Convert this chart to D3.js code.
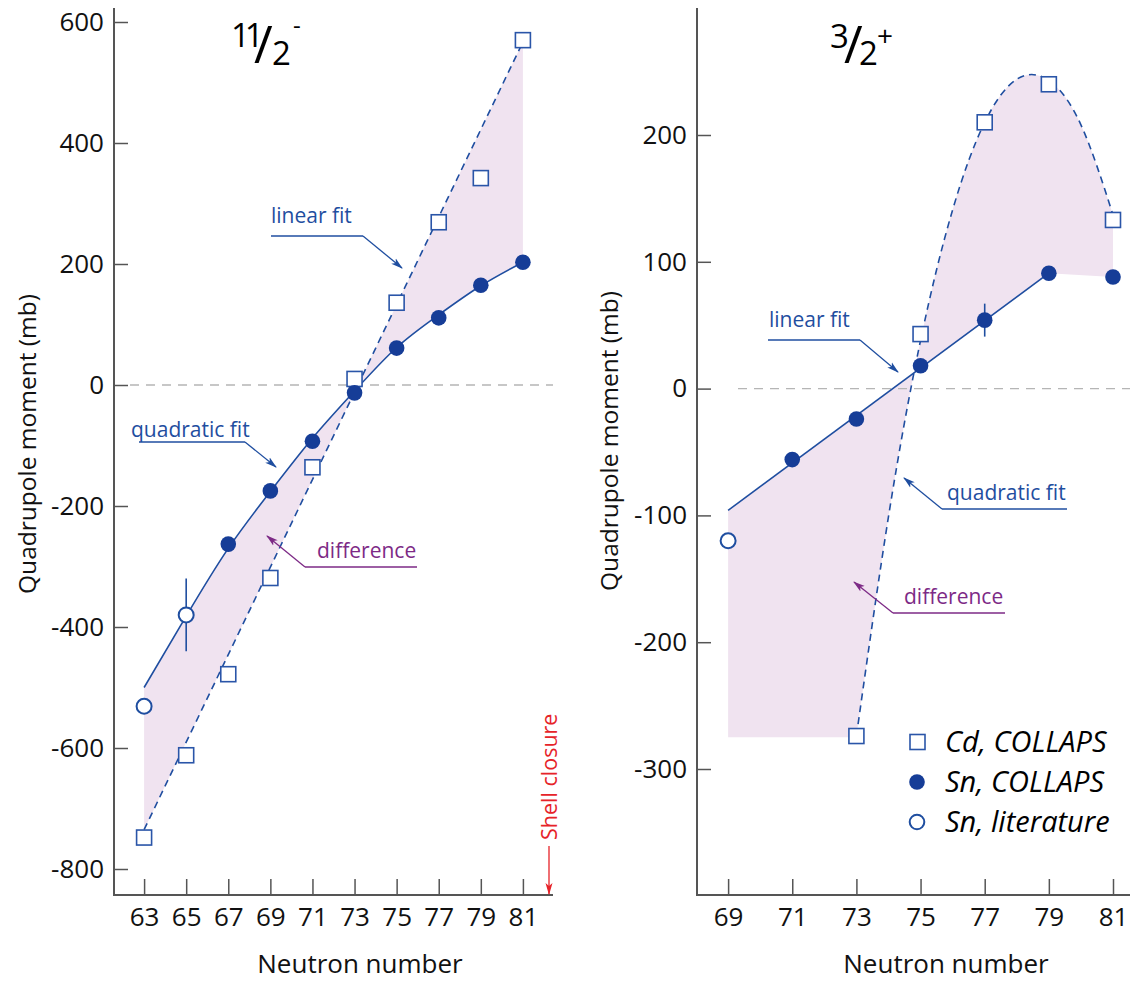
<!DOCTYPE html>
<html><head><meta charset="utf-8">
<script src="https://cdn.jsdelivr.net/npm/d3@7"></script>
<style>body{margin:0;background:#fff} svg{display:block} text{font-family:"Open Sans",sans-serif}</style>
</head><body>
<svg id="c" width="1130" height="981"></svg>
<script>
// ---------- data: left panel (11/2-) ----------
const leftN = [63,65,67,69,71,73,75,77,79,81];
const leftCd = [-748,-612,-478,-319,-136,10,136,269,342,570];
const leftSnN = [67,69,71,73,75,77,79,81];
const leftSn = [-263,-175,-93,-13,61,111,165,203];
const leftLitN = [63,65];
const leftLit = [-531,-380];
const leftLitErr = [0,60];
const leftQuadFit = [-500,-382,-270,-176,-88,-10,62,116,164,203]; // at leftN
const leftLinFitN = [63,81];
const leftLinFit = [-735,567];
const leftXTicks = [63,65,67,69,71,73,75,77,79,81];
const leftYTicks = [-800,-600,-400,-200,0,200,400,600];

// ---------- data: right panel (3/2+) ----------
const rightCdN = [73,75,77,79,81];
const rightCd = [-274,43,210,240,133];
const rightSnN = [71,73,75,77,79,81];
const rightSn = [-56,-24,18,54,91,88];
const rightSnErr = [0,0,0,13,0,0];
const rightLitN = [69];
const rightLit = [-120];
const rightLinFitN = [69,79];
const rightLinFit = [-96,91];
const rightQuadFitN = [73,74,75,76,77,78,79,80,81];
const rightQuadFit = [-274,-101,38,141,210,244,243,208,137];
const rightDiffFloor = -275;
const rightXTicks = [69,71,73,75,77,79,81];
const rightYTicks = [-300,-200,-100,0,100,200];

const legendLabels = ["Cd, COLLAPS","Sn, COLLAPS","Sn, literature"];

// ---------- styles ----------
const BLUE = "#1f4ea0", DOT = "#163d97", SQ = "#2a55a8", PURPLE = "#7d2a86", FILL = "#f0e3f0", AX = "#555";
const svg = d3.select("#c");
const defs = svg.append("defs");
function arrowMarker(id, color){
  defs.append("marker").attr("id",id).attr("markerUnits","userSpaceOnUse")
    .attr("viewBox","0 0 12 8").attr("refX",11).attr("refY",4)
    .attr("markerWidth",12).attr("markerHeight",8).attr("orient","auto")
    .append("path").attr("d","M0,0.5 L12,4 L0,7.5 L3,4 Z").attr("fill",color);
}
arrowMarker("aBlue", BLUE); arrowMarker("aPurple", PURPLE); arrowMarker("aRed", "#e62329");

function zip(xs, ys){ return xs.map((x,i)=>[x, ys[i]]); }

function panel(cfg){
  const g = svg.append("g");
  const x = cfg.x, y = cfg.y;
  const Line = c => d3.line().x(d=>x(d[0])).y(d=>y(d[1])).curve(c||d3.curveLinear);
  // difference area
  let p = "";
  cfg.areaParts.forEach((part,i)=>{
    let s = Line(part.curve)(part.pts);
    if (i>0) s = "L" + s.slice(1);
    p += s;
  });
  p += "Z";
  g.append("path").attr("d",p).attr("fill",FILL).attr("stroke","none");
  // zero line
  g.append("line").attr("x1",cfg.zeroX0).attr("x2",cfg.xEnd).attr("y1",y(0)).attr("y2",y(0))
    .attr("stroke","#b5b5b5").attr("stroke-width",1.3).attr("stroke-dasharray","9,7");
  // axes
  const ya = g.append("g").attr("transform",`translate(${cfg.x0},0)`)
    .call(d3.axisLeft(y).tickValues(cfg.yTicks).tickSizeInner(-14).tickSizeOuter(0).tickPadding(10).tickFormat(d=>String(d)));
  const xa = g.append("g").attr("transform",`translate(0,${cfg.yBase})`)
    .call(d3.axisBottom(x).tickValues(cfg.xTicks).tickSizeInner(-16).tickSizeOuter(0).tickPadding(13).tickFormat(d=>String(d)));
  [ya,xa].forEach(a=>{
    a.select(".domain").remove();
    a.selectAll(".tick line").attr("stroke",AX).attr("stroke-width",1.5);
    a.selectAll(".tick text").attr("font-size",26).attr("fill","#111").attr("font-family","Open Sans");
  });
  g.append("line").attr("x1",cfg.x0).attr("x2",cfg.x0).attr("y1",8).attr("y2",cfg.yBase+1).attr("stroke",AX).attr("stroke-width",2);
  g.append("line").attr("x1",cfg.x0).attr("x2",cfg.xEnd).attr("y1",cfg.yBase).attr("y2",cfg.yBase).attr("stroke",AX).attr("stroke-width",2);
  // axis titles
  g.append("text").attr("x",cfg.xTitleX).attr("y",973).attr("text-anchor","middle").attr("font-size",26).attr("fill","#111").text("Neutron number");
  g.append("text").attr("transform",`translate(${cfg.yTitleX},${cfg.yTitleY}) rotate(-90)`).attr("text-anchor","middle")
    .attr("font-size",24.5).attr("fill","#111").text("Quadrupole moment (mb)");
  // fit lines
  g.append("path").attr("d",Line(cfg.solid.curve)(cfg.solid.pts)).attr("fill","none").attr("stroke",BLUE).attr("stroke-width",1.6);
  g.append("path").attr("d",Line(cfg.dashed.curve)(cfg.dashed.pts)).attr("fill","none").attr("stroke",BLUE).attr("stroke-width",1.6).attr("stroke-dasharray","7,5");
  // error bars
  cfg.errs.forEach(e=>{
    if (e[2]>0) g.append("line").attr("x1",x(e[0])).attr("x2",x(e[0])).attr("y1",y(e[1]-e[2])).attr("y2",y(e[1]+e[2])).attr("stroke",BLUE).attr("stroke-width",1.6);
  });
  // markers
  g.selectAll(".sq").data(cfg.cd).join("rect").attr("x",d=>x(d[0])-7.5).attr("y",d=>y(d[1])-7.5)
    .attr("width",15).attr("height",15).attr("fill","#fff").attr("stroke",SQ).attr("stroke-width",1.6);
  g.selectAll(".dot").data(cfg.sn).join("circle").attr("cx",d=>x(d[0])).attr("cy",d=>y(d[1])).attr("r",7.8).attr("fill",DOT);
  g.selectAll(".lit").data(cfg.lit).join("circle").attr("cx",d=>x(d[0])).attr("cy",d=>y(d[1])).attr("r",7.5)
    .attr("fill","#fff").attr("stroke",BLUE).attr("stroke-width",2);
  return g;
}

function annot(text, color, marker, tx, ty, ux0, ux1, uy, cx, ax, ay){
  svg.append("text").attr("x",tx).attr("y",ty).attr("font-size",21).attr("fill",color).text(text);
  svg.append("polyline").attr("points",`${ux0},${uy} ${ux1},${uy}`).attr("fill","none").attr("stroke",color).attr("stroke-width",1.3);
  svg.append("line").attr("x1",cx).attr("y1",uy).attr("x2",ax).attr("y2",ay).attr("stroke",color).attr("stroke-width",1.3).attr("marker-end",`url(#${marker})`);
}

// ---------- left panel ----------
const xL = d3.scaleLinear().domain([61.57,82.43]).range([114,553]);
const yL = d3.scaleLinear().domain([-800,600]).range([869,22]);
panel({
  x:xL, y:yL, x0:114, xEnd:553, yBase:895, zeroX0:130,
  xTicks:leftXTicks, yTicks:leftYTicks, xTitleX:360, yTitleX:36, yTitleY:444,
  areaParts:[
    {pts:zip(leftN,leftQuadFit), curve:d3.curveNatural},
    {pts:zip(leftLinFitN,leftLinFit).reverse()}
  ],
  solid:{pts:zip(leftN,leftQuadFit), curve:d3.curveNatural},
  dashed:{pts:zip(leftLinFitN,leftLinFit)},
  errs: leftLitN.map((n,i)=>[n,leftLit[i],leftLitErr[i]]),
  cd: zip(leftN,leftCd), sn: zip(leftSnN,leftSn), lit: zip(leftLitN,leftLit)
});

// ---------- right panel ----------
const xR = d3.scaleLinear().domain([68.03,81.53]).range([697,1130]);
const yR = d3.scaleLinear().domain([-300,200]).range([769,135]);
panel({
  x:xR, y:yR, x0:697, xEnd:1130, yBase:895, zeroX0:738,
  xTicks:rightXTicks, yTicks:rightYTicks, xTitleX:946, yTitleX:618, yTitleY:441,
  areaParts:[
    {pts:zip(rightLinFitN,rightLinFit).concat([[81, rightSn[rightSn.length-1]]])},
    {pts:zip(rightQuadFitN,rightQuadFit).reverse(), curve:d3.curveNatural},
    {pts:[[rightQuadFitN[0],rightDiffFloor],[rightLinFitN[0],rightDiffFloor]]}
  ],
  solid:{pts:zip(rightLinFitN,rightLinFit)},
  dashed:{pts:zip(rightQuadFitN,rightQuadFit), curve:d3.curveNatural},
  errs: rightSnN.map((n,i)=>[n,rightSn[i],rightSnErr[i]]),
  cd: zip(rightCdN,rightCd), sn: zip(rightSnN,rightSn), lit: zip(rightLitN,rightLit)
});

// ---------- annotations ----------
annot("linear fit", BLUE, "aBlue", 271, 223, 271, 363, 236, 363, 402, 268);
annot("quadratic fit", BLUE, "aBlue", 131, 437, 139, 245, 442, 245, 276, 467);
annot("difference", PURPLE, "aPurple", 317, 558, 305, 417, 567, 305, 267, 536);
annot("linear fit", BLUE, "aBlue", 769, 327, 768, 860, 340, 860, 898, 372);
annot("quadratic fit", BLUE, "aBlue", 947, 500, 942, 1067, 509, 942, 904, 478);
annot("difference", PURPLE, "aPurple", 904, 604, 893, 1005, 613, 893, 854, 582);

// ---------- titles (single text elements with positioned spans) ----------
const tL = svg.append("text").attr("fill","#000");
tL.append("tspan").attr("x",231).attr("y",47).attr("font-size",33).attr("letter-spacing",-5).text("11");
tL.append("tspan").attr("x",254).attr("y",63).attr("font-size",51).text("/");
tL.append("tspan").attr("x",272).attr("y",65).attr("font-size",33).text("2");
tL.append("tspan").attr("x",293).attr("y",34).attr("font-size",24).text("-");
const tR = svg.append("text").attr("fill","#000");
tR.append("tspan").attr("x",830).attr("y",48).attr("font-size",33).text("3");
tR.append("tspan").attr("x",844).attr("y",63).attr("font-size",51).text("/");
tR.append("tspan").attr("x",859).attr("y",65).attr("font-size",33).text("2");
tR.append("tspan").attr("x",877).attr("y",46).attr("font-size",28).text("+");

// ---------- shell closure ----------
svg.append("text").attr("transform","translate(557,840) rotate(-90)").attr("font-size",21.5).attr("fill","#e62329").text("Shell closure");
svg.append("line").attr("x1",549).attr("x2",549).attr("y1",846).attr("y2",894).attr("stroke","#e62329").attr("stroke-width",1.3).attr("marker-end","url(#aRed)");

// ---------- legend ----------
const lg = svg.append("g");
const legY = [742,782,822];
lg.append("rect").attr("x",910).attr("y",legY[0]-7.5).attr("width",15).attr("height",15).attr("fill","#fff").attr("stroke",SQ).attr("stroke-width",1.6);
lg.append("circle").attr("cx",917).attr("cy",legY[1]).attr("r",7.8).attr("fill",DOT);
lg.append("circle").attr("cx",917).attr("cy",legY[2]).attr("r",7.3).attr("fill","#fff").attr("stroke",BLUE).attr("stroke-width",2);
legendLabels.forEach((t,i)=>{
  lg.append("text").attr("x",945).attr("y",legY[i]+10).attr("font-size",29).attr("font-style","italic").attr("fill","#000").text(t);
});
</script>
</body></html>
